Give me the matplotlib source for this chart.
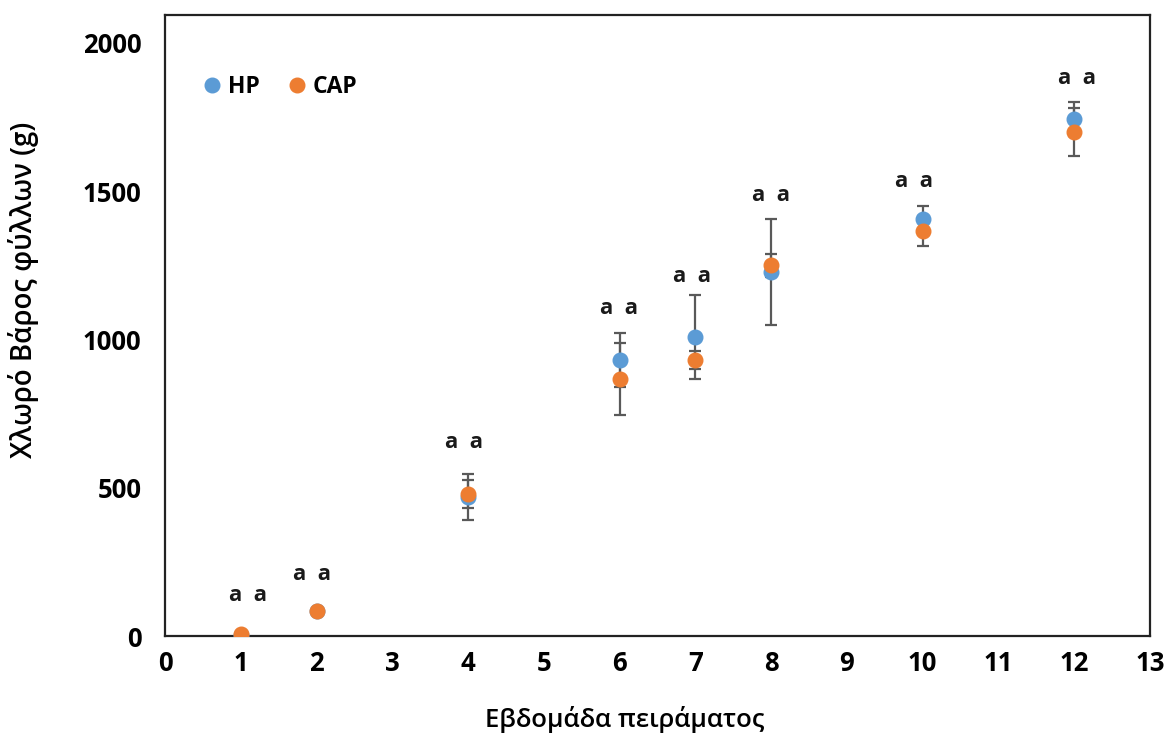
import matplotlib.pyplot as plt

# weeks of the experiment
weeks = [1, 2, 4, 6, 7, 8, 10, 12]

# fresh leaf weight (g) and error (+/-)
hp_mean = [5, 84, 469, 931, 1009, 1227, 1405, 1744]
hp_err = [0, 0, 78, 91, 142, 179, 46, 58]
cap_mean = [7, 84, 479, 867, 931, 1250, 1366, 1698]
cap_err = [0, 0, 47, 122, 30, 38, 51, 81]

# significance letters ("a a") above each week
sig_text = ["a  a"] * 8
sig_x = [1.09, 1.94, 3.95, 5.99, 6.95, 8.0, 9.89, 12.03]
sig_y = [135, 206, 651, 1106, 1211, 1487, 1532, 1881]

HP_COLOR = "#5B9BD5"
CAP_COLOR = "#ED7D31"
ERR_COLOR = "#595959"

plt.rcParams["font.family"] = ["Open Sans", "DejaVu Sans"]

fig = plt.figure(figsize=(11.68, 7.37), dpi=100)
ax = fig.add_axes([0.1413, 0.137, 0.8433, 0.8426])

err_kw = dict(fmt="none", ecolor=ERR_COLOR, elinewidth=1.6,
              capsize=4, capthick=1.6, zorder=2)
ax.errorbar(weeks, hp_mean, yerr=hp_err, **err_kw)
ax.errorbar(weeks, cap_mean, yerr=cap_err, **err_kw)

ax.plot(weeks, hp_mean, "o", color=HP_COLOR, markersize=10.5,
        linestyle="none", label="HP", zorder=3)
ax.plot(weeks, cap_mean, "o", color=CAP_COLOR, markersize=10.5,
        linestyle="none", label="CAP", zorder=4)

for t, x, y in zip(sig_text, sig_x, sig_y):
    ax.text(x, y, t, ha="center", va="center", fontsize=16,
            fontweight="bold", color="#1a1a1a")

ax.set_xlim(0, 13)
ax.set_ylim(0, 2094)
ax.set_xticks(range(0, 14))
ax.set_yticks([0, 500, 1000, 1500, 2000])
ax.tick_params(length=0, labelsize=18.5)
ax.tick_params(axis="x", pad=10)
ax.tick_params(axis="y", pad=17)
for lbl in ax.get_xticklabels() + ax.get_yticklabels():
    lbl.set_fontweight("bold")

for sp in ax.spines.values():
    sp.set_linewidth(1.6)
    sp.set_color("#222222")

ax.set_xlabel("Εβδομάδα πειράματος", fontsize=18.5, fontweight="semibold")
ax.xaxis.set_label_coords(0.467, -0.135)
ax.set_ylabel("Χλωρό Βάρος φύλλων (g)", fontsize=20, fontweight="semibold")
ax.yaxis.set_label_coords(-0.144, 0.557)
ax.xaxis.label.set_va("center")
ax.yaxis.label.set_va("center")

leg = ax.legend(loc="upper left", bbox_to_anchor=(0.013, 0.936), ncol=2,
                frameon=False, fontsize=16.5, handletextpad=0.1,
                columnspacing=1.0, markerscale=1.0, handlelength=1.2)
for txt in leg.get_texts():
    txt.set_fontweight("bold")

fig.savefig("out.png", dpi=100)
